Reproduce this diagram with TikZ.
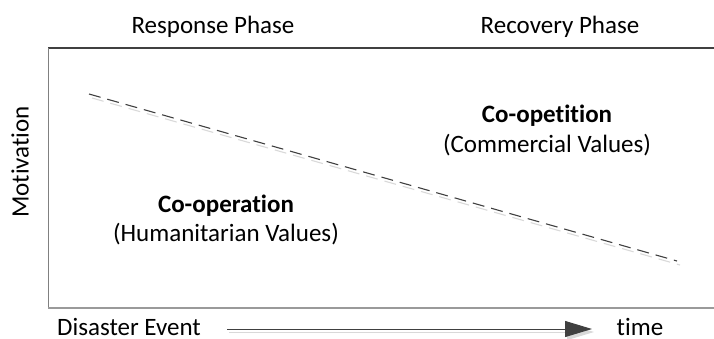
\documentclass[tikz,border=0pt]{standalone}
\usepackage{fontspec}
\setmainfont{Carlito}[Ligatures={NoCommon,NoRequired,NoContextual}]
\usetikzlibrary{arrows.meta}
\definecolor{inkgray}{HTML}{404040}
\definecolor{midgray}{HTML}{9A9A9A}
\definecolor{shadegray}{HTML}{D9D9D9}
\begin{document}
\begin{tikzpicture}[x=1pt,y=-1pt,
  lbl/.style={inner sep=0pt, anchor=base, font=\fontsize{25}{30}\selectfont},
  boldlbl/.style={lbl, font=\fontsize{25}{30}\selectfont\bfseries},
  trend/.style={draw=inkgray, line width=1.1pt, dash pattern=on 12pt off 7pt},
  trendshade/.style={draw=shadegray, line width=1.1pt, dash pattern=on 12pt off 7pt},
  timearrow/.style={draw=inkgray, line width=1pt, -{Triangle[length=27pt,width=16pt]}},
  timeshade/.style={draw=shadegray, line width=1pt, -{Triangle[length=27pt,width=16pt]}}
]
\useasboundingbox (0,0) rectangle (714,338);

% chart frame (open on the right)
\coordinate (tl) at (48,48);
\coordinate (tr) at (714,48);
\coordinate (bl) at (48,308);
\coordinate (br) at (714,308);
\draw[inkgray, line width=1.4pt] (tl) -- (tr);
\draw[gray, line width=1pt] (tl) -- (bl);
\draw[midgray, line width=2pt] (bl) -- (br);

% phase headings
\node[lbl] (resp) at (213,33) {Response Phase};
\node[lbl] (recov) at (560,33) {Recovery Phase};

% vertical axis label
\node[inner sep=0pt, font=\fontsize{25}{30}\selectfont, rotate=90] (motiv) at (20,162) {Motivation};

% declining trend line with soft shadow
\coordinate (hi) at (89,94);
\coordinate (lo) at (677,261);
\draw[trendshade] ([shift={(3,4)}]hi) -- ([shift={(3,4)}]lo);
\draw[trend] (hi) -- (lo);

% region labels
\node[boldlbl] (coop) at (226,212) {Co-operation};
\node[lbl] (hum) at (226,241) {(Humanitarian Values)};
\node[boldlbl] (coopet) at (547,122) {Co-opetition};
\node[lbl] (comm) at (547,152) {(Commercial Values)};

% time axis
\node[lbl] (dis) at (129,335) {Disaster Event};
\node[lbl] (time) at (640,335) {time};
\coordinate (tstart) at (227,329);
\coordinate (tend) at (592,329);
\draw[timeshade] ([shift={(2,3)}]tstart) -- ([shift={(2,3)}]tend);
\draw[timearrow] (tstart) -- (tend);
\end{tikzpicture}
\end{document}
